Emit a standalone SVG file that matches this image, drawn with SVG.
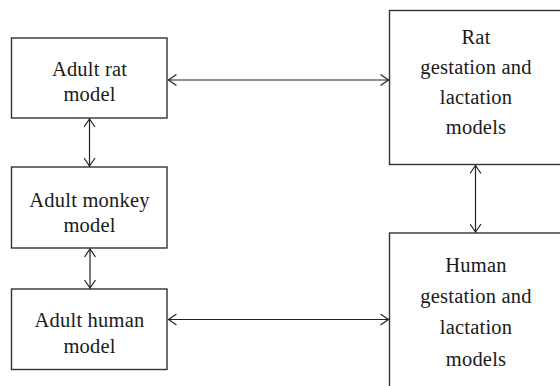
<svg xmlns="http://www.w3.org/2000/svg" width="560" height="386" viewBox="0 0 560 386">
<defs>
<style>
.box{fill:#fff;stroke:#333;stroke-width:1.4}
.t{font-family:"Liberation Serif","Times New Roman",serif;font-size:20.5px;fill:#1a1a1a;text-anchor:middle;letter-spacing:0.2px}
.c{stroke:#222;stroke-width:1.2;fill:none;marker-start:url(#ah);marker-end:url(#ah)}
</style>
<marker id="ah" markerUnits="userSpaceOnUse" viewBox="-10 -6 11 12" refX="0" refY="0" markerWidth="11" markerHeight="12" orient="auto-start-reverse">
<path d="M-8.5,-5.5 L-0.5,0 L-8.5,5.5" fill="none" stroke="#222" stroke-width="1.2"/>
</marker>
</defs>
<rect width="560" height="386" fill="#fff"/>
<g id="adult-rat">
<rect class="box" x="11.5" y="38" width="155.5" height="80"/>
<text class="t" x="89.5" y="76">Adult rat</text>
<text class="t" x="89.5" y="101">model</text>
</g>
<g id="adult-monkey">
<rect class="box" x="11.5" y="167" width="155.5" height="81"/>
<text class="t" x="89.5" y="207">Adult monkey</text>
<text class="t" x="89.5" y="232">model</text>
</g>
<g id="adult-human">
<rect class="box" x="11.5" y="289" width="155.5" height="80.5"/>
<text class="t" x="89.5" y="326.5">Adult human</text>
<text class="t" x="89.5" y="352.5">model</text>
</g>
<g id="rat-gestation">
<rect class="box" x="389.5" y="10.5" width="175" height="154"/>
<text class="t" x="476" y="43.5">Rat</text>
<text class="t" x="476" y="74">gestation and</text>
<text class="t" x="476" y="104">lactation</text>
<text class="t" x="476" y="133.5">models</text>
</g>
<g id="human-gestation">
<rect class="box" x="389.5" y="233" width="175" height="160"/>
<text class="t" x="476" y="272">Human</text>
<text class="t" x="476" y="303">gestation and</text>
<text class="t" x="476" y="334">lactation</text>
<text class="t" x="476" y="365.5">models</text>
</g>
<g id="connectors">
<line class="c" x1="168" y1="80" x2="389" y2="80"/>
<line class="c" x1="168" y1="319.5" x2="389" y2="319.5"/>
<line class="c" x1="89.5" y1="118.5" x2="89.5" y2="166.5"/>
<line class="c" x1="90" y1="248.5" x2="90" y2="288.5"/>
<line class="c" x1="475.5" y1="165" x2="475.5" y2="232.5"/>
</g>
</svg>
